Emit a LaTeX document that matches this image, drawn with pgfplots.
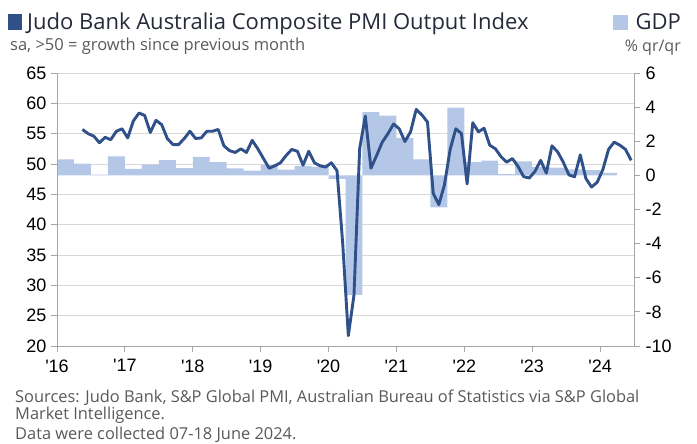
\documentclass[border=0pt]{standalone}
\usepackage{pgfplots}
\pgfplotsset{compat=1.18}
\usepackage{fontspec}
\setmainfont{Liberation Sans}
\newfontfamily\txtfont{Open Sans}
\definecolor{pmi}{HTML}{30508A}
\definecolor{gdp}{HTML}{B4C7E7}
\definecolor{axisgray}{HTML}{A6A6A6}
\definecolor{gridgray}{HTML}{D9D9D9}
\definecolor{titlecol}{HTML}{252A3A}
\definecolor{subcol}{HTML}{595959}

\pgfplotstableread{
x y
4.5 55.7
5.5 55.0
6.5 54.6
7.5 53.5
8.5 54.4
9.5 54.0
10.5 55.4
11.5 55.8
12.5 54.3
13.5 57.1
14.5 58.4
15.5 58.0
16.5 55.2
17.5 57.2
18.5 56.5
19.5 54.2
20.5 53.2
21.5 53.2
22.5 54.2
23.5 55.4
24.5 54.2
25.5 54.3
26.5 55.4
27.5 55.4
28.5 55.7
29.5 53.0
30.5 52.2
31.5 51.9
32.5 52.5
33.5 51.9
34.5 53.9
35.5 52.5
36.5 50.9
37.5 49.3
38.5 49.7
39.5 50.2
40.5 51.4
41.5 52.4
42.5 52.1
43.5 49.8
44.5 52.1
45.5 50.2
46.5 49.7
47.5 49.5
48.5 50.2
49.5 48.9
50.5 37.0
51.5 21.7
52.5 28.4
53.5 52.5
54.5 57.9
55.5 49.3
56.5 51.4
57.5 53.6
58.5 55.0
59.5 56.6
60.5 55.8
61.5 53.7
62.5 55.3
63.5 59.0
64.5 58.1
65.5 56.9
66.5 45.2
67.5 43.3
68.5 46.6
69.5 52.4
70.5 55.8
71.5 55.0
72.5 46.7
73.5 56.8
74.5 55.3
75.5 55.9
76.5 53.1
77.5 52.5
78.5 51.2
79.5 50.3
80.5 50.9
81.5 49.6
82.5 47.9
83.5 47.7
84.5 48.8
85.5 50.6
86.5 48.5
87.5 53.0
88.5 52.0
89.5 50.3
90.5 48.2
91.5 47.9
92.5 51.5
93.5 47.6
94.5 46.2
95.5 47.0
96.5 49.1
97.5 52.4
98.5 53.6
99.5 53.1
100.5 52.4
101.5 50.6
}\pmitable

\pgfplotstableread{
x y
1.5 0.94
4.5 0.69
7.5 0.05
10.5 1.12
13.5 0.38
16.5 0.63
19.5 0.90
22.5 0.43
25.5 1.08
28.5 0.77
31.5 0.41
34.5 0.28
37.5 0.60
40.5 0.33
43.5 0.54
46.5 0.50
49.5 -0.20
52.5 -7.0
55.5 3.7
58.5 3.5
61.5 2.2
64.5 0.94
67.5 -1.87
70.5 3.97
73.5 0.77
76.5 0.86
79.5 0.08
82.5 0.82
85.5 0.50
88.5 0.45
91.5 0.35
94.5 0.31
97.5 0.14
}\gdptable

\begin{document}
\begin{tikzpicture}[x=1pt,y=1pt]
\useasboundingbox (0,0) rectangle (697,444);
\pgfplotsset{common/.style={at={(57pt,98pt)}, anchor=south west, scale only axis,
  width=577pt, height=273pt, xmin=0, xmax=102,
  /pgf/number format/assume math mode=true,
  ticklabel style={font=\fontsize{18}{21}\selectfont, text=black}}}
% grid
\begin{axis}[common, ymin=20, ymax=65, ytick={25,30,...,65}, ymajorgrids,
  grid style={gridgray, line width=0.9pt}, axis line style={draw=none},
  xtick=\empty, yticklabels={}, major tick length=0pt]
\end{axis}
% GDP
\begin{axis}[common, ymin=-10, ymax=6, ytick={-10,-8,...,6},
  axis y line*=right, axis x line=none,
  y axis line style={axisgray, line width=0.9pt},
  ytick style={axisgray, line width=0.9pt},
  tick align=outside, major tick length=6pt,
  yticklabel style={anchor=west, xshift=2pt}]
\addplot[ybar, bar width=3, fill=gdp, draw=none] table[x=x,y=y] {\gdptable};
\end{axis}
% PMI
\begin{axis}[common, ymin=20, ymax=65, ytick={20,25,...,65},
  axis y line*=left, axis x line*=bottom,
  xtick={0,12,...,96},
  xticklabels={\textquotesingle16,\textquotesingle17,\textquotesingle18,\textquotesingle19,\textquotesingle20,\textquotesingle21,\textquotesingle22,\textquotesingle23,\textquotesingle24},
  axis line style={axisgray, line width=0.9pt},
  tick style={axisgray, line width=0.9pt},
  tick align=outside, major tick length=6pt,
  xticklabel style={yshift=-4pt},
  yticklabel style={xshift=-1pt}]
\addplot[pmi, line width=2.9pt, line join=round] table[x=x,y=y] {\pmitable};
\end{axis}

\node[anchor=base west, inner sep=0, font=\txtfont\fontsize{22}{25}\selectfont, text=titlecol] at (8,414)
  {\textcolor{pmi}{\rule{14pt}{16pt}}\hspace{5pt}Judo Bank Australia Composite PMI Output Index};
\node[anchor=base west, inner sep=0, font=\txtfont\fontsize{16.5}{19}\selectfont, text=subcol] at (10,393)
  {sa, >50 = growth since previous month};
\node[anchor=base east, inner sep=0, font=\txtfont\fontsize{22}{25}\selectfont, text=titlecol] at (681,414)
  {\textcolor{gdp}{\rule{15pt}{15pt}}\hspace{8pt}GDP};
\node[anchor=base east, inner sep=0, font=\txtfont\fontsize{16}{19}\selectfont, text=subcol] at (681,392)
  {\% qr/qr};
\node[anchor=base west, inner sep=0, font=\txtfont\fontsize{16.4}{19}\selectfont, text=subcol] at (15,41)
  {Sources: Judo Bank, S\&P Global PMI, Australian Bureau of Statistics via S\&P Global};
\node[anchor=base west, inner sep=0, font=\txtfont\fontsize{16.4}{19}\selectfont, text=subcol] at (15,24)
  {Market Intelligence.};
\node[anchor=base west, inner sep=0, font=\txtfont\fontsize{16.4}{19}\selectfont, text=subcol] at (15,4)
  {Data were collected 07-18 June 2024.};
\end{tikzpicture}
\end{document}
